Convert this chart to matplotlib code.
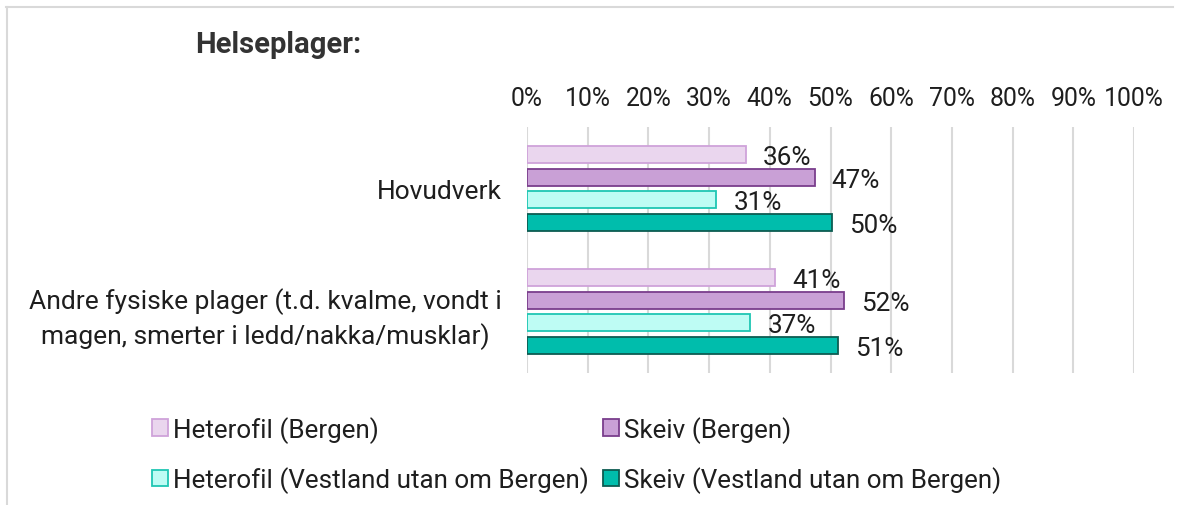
import matplotlib.pyplot as plt
from matplotlib.lines import Line2D

plt.rcParams['font.family'] = ['Roboto', 'DejaVu Sans']

# Data
categories = ['Hovudverk',
              'Andre fysiske plager (t.d. kvalme, vondt i\nmagen, smerter i ledd/nakka/musklar)']
series = ['Heterofil (Bergen)', 'Skeiv (Bergen)',
          'Heterofil (Vestland utan om Bergen)', 'Skeiv (Vestland utan om Bergen)']
values = [
    [36.1, 40.9],   # Heterofil (Bergen)
    [47.4, 52.3],   # Skeiv (Bergen)
    [31.2, 36.8],   # Heterofil (Vestland)
    [50.2, 51.3],   # Skeiv (Vestland)
]
x_ticks = list(range(0, 101, 10))

fills = ['#EAD6EE', '#C9A0D6', '#BEFCF4', '#00BDAC']
edges = ['#CFA2DA', '#7A3E8C', '#1FC6B3', '#0D5C52']

fig = plt.figure(figsize=(11.82, 5.06), dpi=100)
ax = fig.add_axes([527 / 1182, 1 - 374 / 506, (1134 - 527) / 1182, (374 - 128) / 506])

step = 22.5 / 123
bar_h = 17 / 123
text_col = '#1e1e1e'

bars_list = []
for i, (name, vals) in enumerate(zip(series, values)):
    pos = [c + (i - 1.5) * step for c in range(len(categories))]
    bars = ax.barh(pos, vals, height=bar_h, color=fills[i], edgecolor=edges[i],
                   linewidth=1.3, label=name, zorder=3)
    bars_list.append(bars)
    for p, v in zip(pos, vals):
        ax.text(v + 2.8, p + 0.02, f'{v:.0f}%', ha='left', va='center',
                fontsize=18.7, color=text_col, zorder=4)

ax.set_xlim(0, 100)
ax.set_ylim(1.5, -0.5)
ax.set_xticks(x_ticks)
ax.set_xticklabels([f'{t}%' for t in x_ticks], fontsize=17.8, color=text_col)
ax.xaxis.tick_top()
ax.tick_params(axis='x', length=0, pad=12)
ax.set_yticks(range(len(categories)))
ax.set_yticklabels(categories, fontsize=19, color=text_col, linespacing=1.35)
ax.tick_params(axis='y', length=0, pad=18.5)
for lbl in ax.get_yticklabels():
    lbl.set_horizontalalignment('right')
    lbl.set_multialignment('center')
ax.grid(axis='x', color='#D9D9D9', linewidth=1.5, zorder=0)
for s in ax.spines.values():
    s.set_visible(False)

# Title
fig.text(195 / 1182, 1 - 45 / 506, 'Helseplager:', fontsize=21, fontweight='bold',
         color='#333333', ha='left', va='center')

# Legend (column-major fill -> reorder so rows read as in the original)
order = [0, 2, 1, 3]
handles = [bars_list[i] for i in order]
labels = [series[i] for i in order]
fig.legend(handles, labels, ncol=2, frameon=False, fontsize=18.7,
           loc='upper left', bbox_to_anchor=(152 / 1182, 1 - 417 / 506),
           borderaxespad=0, borderpad=0,
           handlelength=0.6, handleheight=0.6, handletextpad=0.2,
           columnspacing=0.55, labelspacing=0.9, labelcolor=text_col)

# Outer border (top and left)
fig.add_artist(Line2D([6 / 1182, 1173 / 1182], [1 - 8 / 506, 1 - 8 / 506],
                      color='#D9D9D9', linewidth=1.5, transform=fig.transFigure))
fig.add_artist(Line2D([7 / 1182, 7 / 1182], [0, 1 - 8 / 506],
                      color='#D9D9D9', linewidth=1.5, transform=fig.transFigure))

plt.savefig('out.png', dpi=100)
